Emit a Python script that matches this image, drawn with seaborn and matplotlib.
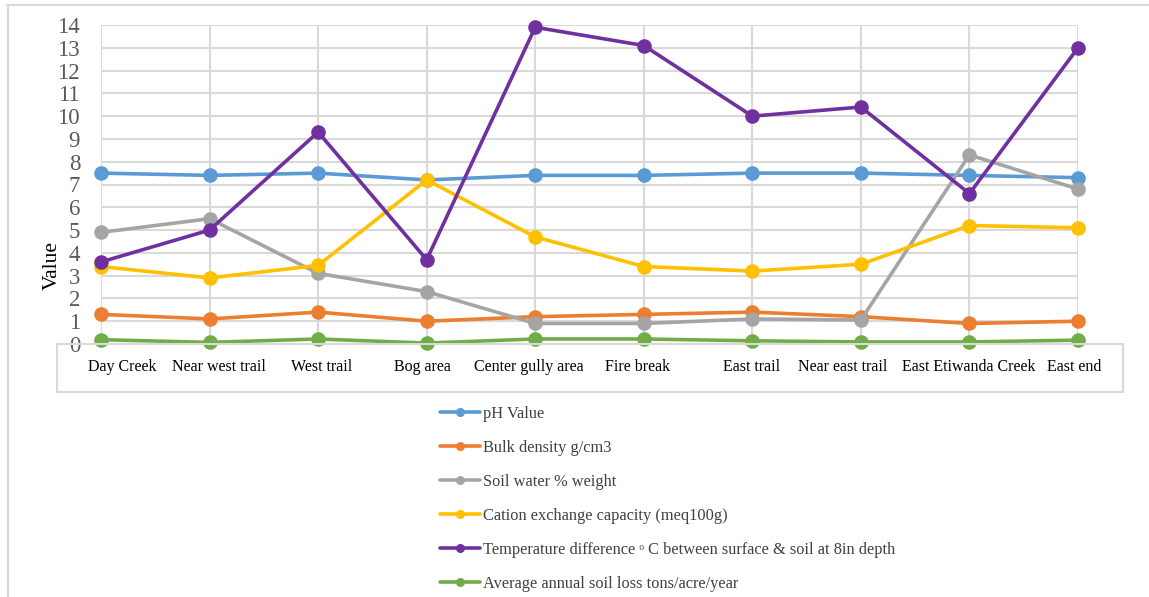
import matplotlib
matplotlib.use("Agg")
import matplotlib.pyplot as plt
import matplotlib.transforms as mtransforms
from matplotlib.lines import Line2D
from matplotlib.patches import Rectangle
import seaborn as sns
import pandas as pd

sites = ["Day Creek", "Near west trail", "West trail", "Bog area", "Center gully area",
         "Fire break", "East trail", "Near east trail", "East Etiwanda Creek", "East end"]

ph_value = [7.5, 7.4, 7.5, 7.2, 7.4, 7.4, 7.5, 7.5, 7.4, 7.3]
bulk_density = [1.3, 1.1, 1.4, 1.0, 1.2, 1.3, 1.4, 1.2, 0.9, 1.0]
soil_water = [4.9, 5.5, 3.1, 2.3, 0.9, 0.9, 1.1, 1.05, 8.3, 6.8]
cation_exchange = [3.4, 2.9, 3.45, 7.2, 4.7, 3.4, 3.2, 3.5, 5.2, 5.1]
temp_difference = [3.6, 5.0, 9.3, 3.7, 13.9, 13.1, 10.0, 10.4, 6.6, 13.0]
soil_loss = [0.19, 0.07, 0.22, 0.04, 0.22, 0.22, 0.14, 0.09, 0.09, 0.17]

series_names = [
    "pH Value",
    "Bulk density g/cm3",
    "Soil water % weight",
    "Cation exchange capacity (meq100g)",
    "Temperature difference \u1d52 C between surface & soil at 8in depth",
    "Average annual soil loss tons/acre/year",
]
series_values = [ph_value, bulk_density, soil_water, cation_exchange, temp_difference, soil_loss]
colors = ["#5B9BD5", "#ED7D31", "#A5A5A5", "#FFC000", "#7030A0", "#70AD47"]

# horizontal nudges (pixels) so the site names spread evenly inside their box
label_shift_px = [21, 9, 4, -4, -6, -6, -1, -18, -1, -4]

sns.set_theme(style="white")
plt.rcParams["font.family"] = ["Liberation Serif", "DejaVu Serif"]

W, H = 1149, 597
fig = plt.figure(figsize=(W / 100, H / 100), dpi=100)
ax = fig.add_axes([101 / W, 1 - 344 / H, (1078 - 101) / W, (344 - 25) / H])

grid_color = "#D9D9D9"
positions = list(range(len(sites)))

handles = []
for i, (name, vals, col) in enumerate(zip(series_names, series_values, colors)):
    df = pd.DataFrame({"x": positions, "y": vals})
    sns.lineplot(data=df, x="x", y="y", ax=ax, color=col, linewidth=2.6,
                 marker="o", markersize=10.5, markeredgewidth=0, clip_on=False,
                 zorder=3 + i, legend=False)
    handles.append(Line2D([0], [0], color=col, linewidth=2.6, marker="o",
                          markersize=6.5, markeredgewidth=0))

ax.set_xlim(0, len(sites) - 1)
ax.set_ylim(0, 14)
ax.set_yticks(range(0, 15))
ax.set_xticks(positions)
ax.set_xticklabels(sites, fontsize=11.5, color="#000000")
ax.tick_params(axis="y", labelsize=16.5, labelcolor="#595959", length=0, pad=15)
ax.tick_params(axis="x", length=0, pad=10.5)
for lbl, dx in zip(ax.get_xticklabels(), label_shift_px):
    lbl.set_transform(lbl.get_transform() +
                      mtransforms.ScaledTranslation(dx / 100, 0, fig.dpi_scale_trans))
ax.grid(True, color=grid_color, linewidth=1.5)
ax.set_axisbelow(True)
for s in ax.spines.values():
    s.set_visible(False)
ax.set_xlabel("")
ax.set_ylabel("")

fig.text(52 / W, 1 - 266 / H, "Value", rotation=90, ha="center", va="center",
         fontsize=15.5, color="#000000")

# box holding the site names under the plot
fig.patches.append(Rectangle((57 / W, 1 - 392 / H), (1123 - 57) / W, (392 - 344) / H,
                             transform=fig.transFigure, fill=False,
                             edgecolor=grid_color, linewidth=1.5, zorder=0))

# chart area border (top and left edges)
fig.lines.append(Line2D([7 / W, 1], [1 - 5 / H, 1 - 5 / H], transform=fig.transFigure,
                        color=grid_color, linewidth=1.5))
fig.lines.append(Line2D([8 / W, 8 / W], [0, 1 - 5 / H], transform=fig.transFigure,
                        color=grid_color, linewidth=1.5))

fig.legend(handles=handles, labels=series_names, loc="upper left",
           bbox_to_anchor=(440 / W, 1 - 406 / H), bbox_transform=fig.transFigure,
           frameon=False, fontsize=11.8, labelspacing=1.10, handlelength=2.45,
           handletextpad=0.2, borderaxespad=0, borderpad=0, labelcolor="#404040")

fig.savefig("out.png", dpi=100, facecolor="white")
